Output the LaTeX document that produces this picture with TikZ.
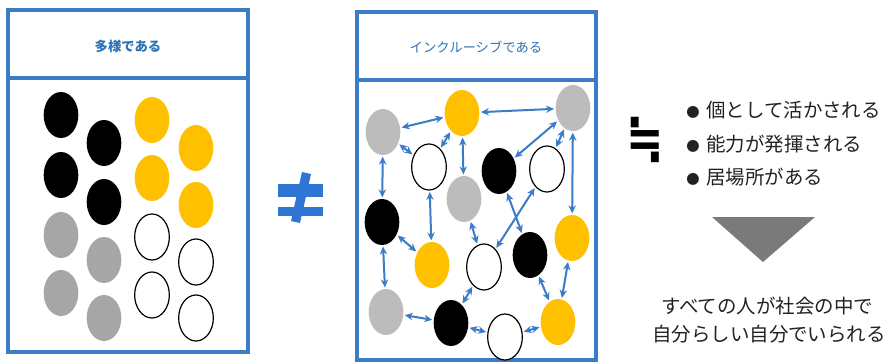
\documentclass[tikz,border=0pt]{standalone}
\usepackage{fontspec}
\setmainfont{Noto Sans CJK JP}
\newfontfamily\symfont{DejaVu Sans}
\usetikzlibrary{shapes.geometric,arrows.meta}
\definecolor{frameblue}{HTML}{3B7CC7}
\definecolor{titleblue}{HTML}{2E74B5}
\definecolor{arrowblue}{HTML}{3A7CC9}
\definecolor{cyellow}{HTML}{FFC000}
\definecolor{cgrayL}{HTML}{A6A6A6}
\definecolor{cgrayM}{HTML}{BCBCBC}
\definecolor{neblue}{HTML}{2F75D3}
\definecolor{tricol}{HTML}{7A7A7A}
\definecolor{txtcol}{HTML}{222222}
\begin{document}
\begin{tikzpicture}[x=0.75pt,y=-0.75pt,
  dot/.style={ellipse, inner sep=0pt, minimum width=26pt, minimum height=34.5pt},
  blk/.style={dot, fill=black},
  yel/.style={dot, fill=cyellow},
  gryL/.style={dot, fill=cgrayL},
  gryM/.style={dot, fill=cgrayM},
  wht/.style={dot, fill=white, draw=black, line width=0.9pt},
  frame/.style={draw=frameblue, line width=2.8pt},
  ttl/.style={text=titleblue, font=\fontsize{10pt}{12pt}\selectfont, inner sep=0pt},
  link/.style={draw=arrowblue, line width=1.5pt, {Stealth[length=6pt,width=5.5pt]}-{Stealth[length=6pt,width=5.5pt]}, shorten <=1pt, shorten >=1pt},
  bl/.style={anchor=west, text=txtcol, font=\fontsize{14.6pt}{17pt}\selectfont, inner sep=0pt},
  bt/.style={text=txtcol, font=\fontsize{14.6pt}{17pt}\selectfont, inner sep=0pt},
]
\useasboundingbox (0,0) rectangle (890,364);
\fill[white] (0,0) rectangle (890,364);

% left panel
\draw[frame] (8,10) rectangle (248,352);
\draw[frame] (8,78) -- (248,78);
\node[ttl, font=\fontsize{10pt}{12pt}\selectfont\bfseries] (t1) at (128,46) {多様である};

\node[blk] (l1) at (61,115) {};
\node[blk] (l2) at (61,175) {};
\node[gryL] (l3) at (61,235) {};
\node[gryL] (l4) at (61,293) {};
\node[blk] (l5) at (104,143) {};
\node[blk] (l6) at (104,202) {};
\node[gryL] (l7) at (104,260) {};
\node[gryL] (l8) at (104,318) {};
\node[yel] (l9) at (152,120) {};
\node[yel] (l10) at (152,178) {};
\node[wht] (l11) at (152,237) {};
\node[wht] (l12) at (152,295) {};
\node[yel] (l13) at (196,148) {};
\node[yel] (l14) at (196,205) {};
\node[wht] (l15) at (196,262) {};
\node[wht] (l16) at (196,318) {};

% not equal
\fill[neblue] (278,184) rectangle (323,197);
\fill[neblue] (278,207) rectangle (323,216);
\fill[neblue] (302,172) -- (311,174) -- (300,223) -- (291,221) -- cycle;

% middle panel
\draw[frame] (357,12) rectangle (596,360);
\draw[frame] (357,80) -- (596,80);
\node[ttl] (t2) at (476,47) {インクルーシブである};

\node[gryM] (A) at (383,132) {};
\node[yel] (B) at (462,113) {};
\node[wht] (C) at (429,167) {};
\node[gryM] (D) at (464,199) {};
\node[blk] (E) at (382,222) {};
\node[gryM] (F) at (573,108) {};
\node[blk] (G) at (499,171) {};
\node[wht] (H) at (547,169) {};
\node[yel] (I) at (572,238) {};
\node[blk] (J) at (530,255) {};
\node[wht] (K) at (484,267) {};
\node[yel] (L) at (558,322) {};
\node[wht] (M) at (505,337) {};
\node[yel] (N) at (432,265) {};
\node[gryM] (O) at (386,312) {};
\node[blk] (P) at (451,323) {};

\draw[link] (A) -- (B);
\draw[link] (B) -- (C);
\draw[link] (B) -- (D);
\draw[link] (B) -- (F);
\draw[link] (A) -- (C);
\draw[link] (A) -- (E);
\draw[link] (F) -- (G);
\draw[link] (F) -- (H);
\draw[link] (F) -- (I);
\draw[link] (C) -- (N);
\draw[link] (E) -- (N);
\draw[link] (E) -- (O);
\draw[link] (O) -- (P);
\draw[link] (P) -- (K);
\draw[link] (P) -- (M);
\draw[link] (M) -- (L);
\draw[link] (J) -- (L);
\draw[link] (I) -- (L);
\draw[link] (D) -- (K);
\draw[link] (H) -- (K);
\draw[link] (G) -- (J);

% right side
\node[inner sep=0pt, font=\symfont\fontsize{42pt}{46pt}\selectfont\bfseries] (approx) at (645,140) {\scalebox{0.8}[1]{≒}};
\node[bl] (b1) at (686,110) {{\fontsize{10pt}{12pt}\selectfont ●}\hspace{5pt}個として活かされる};
\node[bl] (b2) at (686,144) {{\fontsize{10pt}{12pt}\selectfont ●}\hspace{5pt}能力が発揮される};
\node[bl] (b3) at (686,177) {{\fontsize{10pt}{12pt}\selectfont ●}\hspace{5pt}居場所がある};
\fill[tricol] (712,217) -- (815,217) -- (763,262) -- cycle;
\node[bt] (r1) at (767,306) {すべての人が社会の中で};
\node[bt] (r2) at (769,334) {自分らしい自分でいられる};
\end{tikzpicture}
\end{document}
